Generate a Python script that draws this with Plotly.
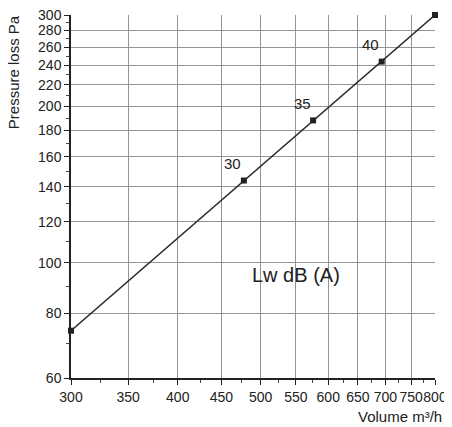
import plotly.graph_objects as go
import math

volume = [300, 478, 576, 693, 800]
pressure = [74, 144, 188, 244, 300]
labelled_points = [(478, 144, "30"), (576, 188, "35"), (693, 244, "40")]

x_ticks = [300, 350, 400, 450, 500, 550, 600, 650, 700, 750, 800]
x_minor = [325, 375, 425, 475, 525, 575, 625, 675, 725, 775]
y_ticks = [60, 80, 100, 120, 140, 160, 180, 200, 220, 240, 260, 280, 300]
y_minor = [70, 90, 110, 130, 150, 170, 190, 210, 230, 250, 270, 290]

FONT = "Liberation Sans, Arial"
EPS = 1e-6

fig = go.Figure()
fig.add_trace(go.Scatter(
    x=volume, y=pressure, mode="lines+markers",
    line=dict(color="#2b2b2b", width=1.5),
    marker=dict(symbol="square", size=6, color="#222222"),
    hoverinfo="x+y", showlegend=False, cliponaxis=False,
))

for vx, vy, lab in labelled_points:
    fig.add_annotation(x=math.log10(vx), y=math.log10(vy), xref="x", yref="y",
                       text=lab, showarrow=False, xshift=-11, yshift=17,
                       font=dict(family=FONT, size=15, color="#222"))

fig.update_xaxes(
    type="log", range=[math.log10(300) - EPS, math.log10(800) + EPS],
    tickvals=x_ticks, ticktext=[str(v) for v in x_ticks], tickangle=0,
    showgrid=True, gridcolor="#949494", gridwidth=1,
    showline=True, linecolor="#222", linewidth=1.5,
    ticks="outside", ticklen=5, tickcolor="#222",
    minor=dict(tickvals=x_minor, ticks="outside", ticklen=3, tickcolor="#444", showgrid=False),
    tickfont=dict(family=FONT, size=14, color="#222"),
    zeroline=False, automargin=False, ticklabeloverflow="allow",
)
fig.update_yaxes(
    type="log", range=[math.log10(60) - EPS, math.log10(300) + EPS],
    tickvals=y_ticks, ticktext=[str(v) for v in y_ticks],
    showgrid=True, gridcolor="#949494", gridwidth=1,
    showline=True, linecolor="#222", linewidth=1.5,
    ticks="outside", ticklen=5, tickcolor="#222",
    minor=dict(tickvals=y_minor, ticks="outside", ticklen=3, tickcolor="#444", showgrid=False),
    tickfont=dict(family=FONT, size=14, color="#222"),
    zeroline=False, automargin=False, ticklabeloverflow="allow",
)

fig.add_annotation(text="Volume m³/h", xref="paper", yref="paper", x=1.025, y=-0.077,
                   xanchor="right", yanchor="top", showarrow=False,
                   font=dict(family=FONT, size=15, color="#222"))
fig.add_annotation(text="Pressure loss Pa", xref="paper", yref="paper", x=-0.157, y=0.842,
                   xanchor="center", yanchor="middle", textangle=-90, showarrow=False,
                   font=dict(family=FONT, size=15, color="#222"))
fig.add_annotation(text="Lw dB (A)", xref="paper", yref="paper", x=0.619, y=0.285,
                   xanchor="center", yanchor="middle", showarrow=False,
                   font=dict(family=FONT, size=20, color="#222"))

fig.update_layout(
    width=452, height=427,
    margin=dict(l=63, r=25, t=7, b=57, autoexpand=False),
    plot_bgcolor="white", paper_bgcolor="white",
)
fig.write_html("out.html")
